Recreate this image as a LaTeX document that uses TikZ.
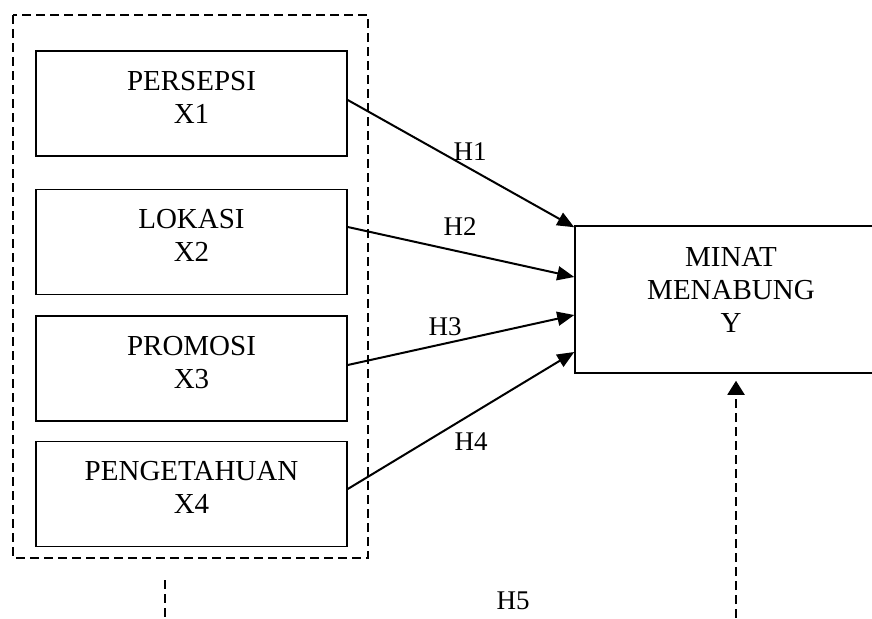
\documentclass[tikz,border=0pt]{standalone}
\usepackage{fontspec}
\setmainfont{Liberation Serif}
\usetikzlibrary{positioning,arrows.meta}

\tikzset{
  varbox/.style={draw, line width=1.5pt, minimum width=311pt, minimum height=105pt,
    align=center, text depth=13pt, font=\fontsize{29}{33}\selectfont},
  hyp/.style={-{Triangle[length=17pt,width=14pt]}, line width=2pt},
  hlabel/.style={font=\fontsize{27}{32}\selectfont},
  grouping/.style={dash pattern=on 9pt off 5pt, line width=2pt},
}

\begin{document}
\begin{tikzpicture}[x=1pt,y=-1pt]
  \useasboundingbox (0,0) rectangle (872,618);
  \clip (0,0) rectangle (872,618);

  % Variabel bebas
  \node[varbox] (x1) at (191.5,103.5) {PERSEPSI\\X1};
  \node[varbox, below=32pt of x1] (x2) {LOKASI\\X2};
  \node[varbox, below=20pt of x2] (x3) {PROMOSI\\X3};
  \node[varbox, below=19pt of x3] (x4) {PENGETAHUAN\\X4};
  \draw[grouping] (13,15) rectangle (368,558);

  % Variabel terikat
  \node[varbox, minimum width=312pt, minimum height=147pt, text depth=20pt] (y) at (731,299.5) {MINAT\\MENABUNG\\Y};

  % Hipotesis parsial
  \draw[hyp] ([yshift=3.5pt]x1.east) -- ([yshift=-2pt]y.north west);
  \draw[hyp] ([yshift=15pt]x2.east) -- ([yshift=22.5pt]y.west);
  \draw[hyp] ([yshift=3.5pt]x3.east) -- ([yshift=-15.5pt]y.west);
  \draw[hyp] ([yshift=5pt]x4.east) -- ([yshift=-52.5pt]y.west);
  \node[hlabel] (h1) at (470,152) {H1};
  \node[hlabel] (h2) at (460,227) {H2};
  \node[hlabel] (h3) at (445,327) {H3};
  \node[hlabel] (h4) at (471,442) {H4};

  % Hipotesis simultan
  \coordinate (gtop) at (165,580);
  \coordinate (gbot) at (165,618);
  \coordinate (yfoot) at (736,618);
  \draw[grouping] (gtop) -- (gbot);
  \draw[grouping, -{Triangle[length=14pt,width=17pt]}] (yfoot) -- ([xshift=5pt,yshift=-7pt]y.south);
  \node[hlabel] (h5) at (513,601) {H5};
\end{tikzpicture}
\end{document}
